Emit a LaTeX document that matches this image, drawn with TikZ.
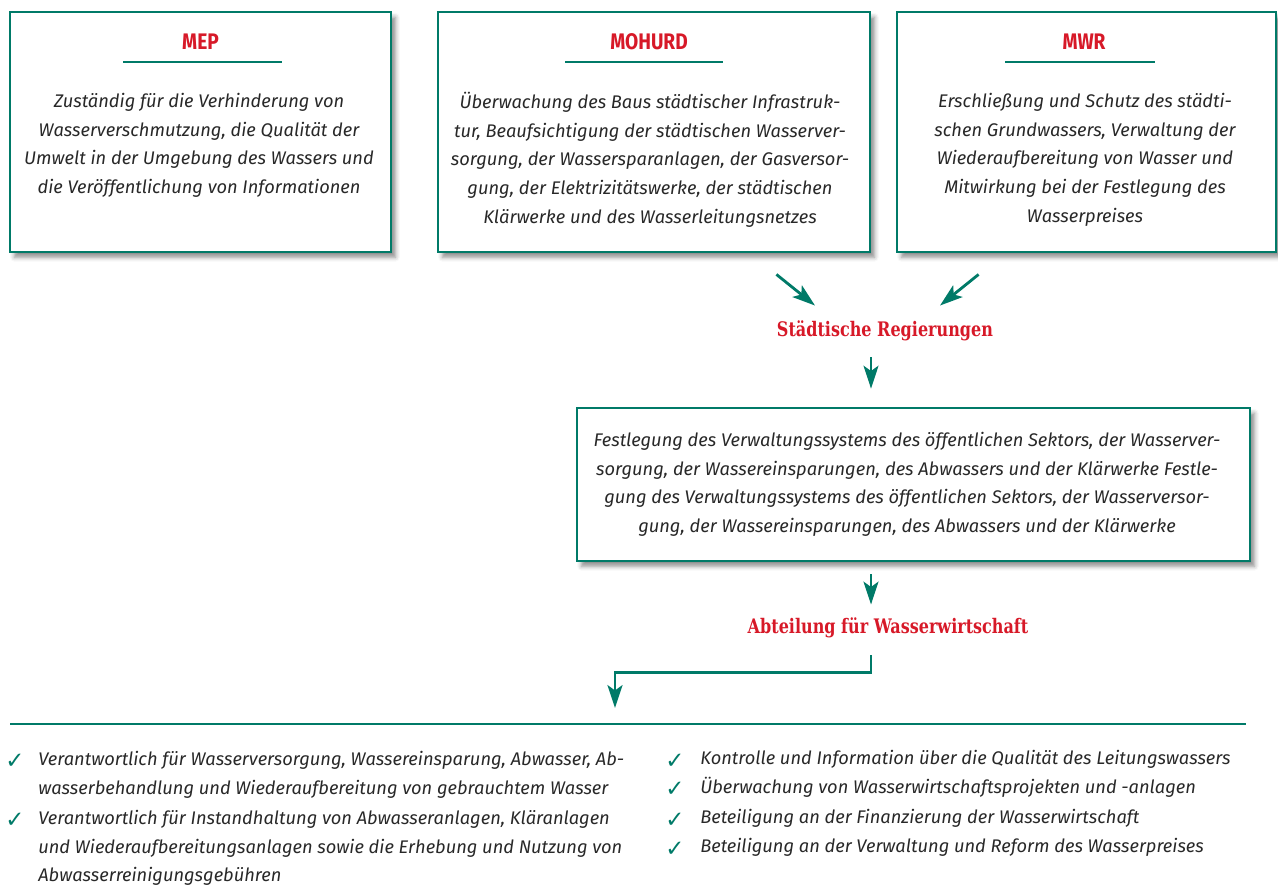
\documentclass[tikz,border=0pt]{standalone}
\usepackage{fontspec}
\setmainfont{Fira Sans}
\newfontfamily\slabfont[FakeStretch=0.8]{DejaVu Serif}
\newfontfamily\headfont[FakeStretch=0.85]{Fira Sans}
\newfontfamily\checkfont{DejaVu Sans}
\usetikzlibrary{arrows.meta,fit,shadows.blur}
\definecolor{wgreen}{RGB}{0,122,104}
\definecolor{wred}{RGB}{215,25,40}
\definecolor{wtext}{RGB}{40,40,40}

\tikzset{
  box/.style={draw=wgreen, line width=1.6pt, fill=white, inner sep=0pt,
    blur shadow={shadow xshift=2.5pt, shadow yshift=-3pt,
      shadow blur radius=2.5pt, shadow opacity=45}},
  head/.style={text=wred, inner sep=0pt,
    font=\headfont\bfseries\fontsize{12.8}{14}\selectfont},
  slab/.style={text=wred, inner sep=0pt,
    font=\slabfont\bfseries\fontsize{11.4}{13}\selectfont},
  txt/.style={align=center, text=wtext, inner sep=0pt,
    font=\itshape\fontsize{10.4}{16.3}\selectfont},
  item/.style={align=left, text=wtext, inner sep=0pt,
    font=\itshape\fontsize{10.4}{16.3}\selectfont},
  chk/.style={text=wgreen, inner sep=0pt,
    font=\checkfont\fontsize{13}{14}\selectfont},
  rule/.style={draw=wgreen, line width=1.6pt},
  arr/.style={draw=wgreen, line width=1.6pt,
    -{Stealth[length=13pt, width=8.5pt, inset=3pt]}}
}

\begin{document}
\begin{tikzpicture}[x=0.02cm, y=-0.02cm]
  \useasboundingbox (0,0) rectangle (1278,887);

  % the three ministries
  \node[box, fit={(10,12) (391,252)}] (mep) {};
  \node[box, fit={(438,12) (870,252)}] (mohurd) {};
  \node[box, fit={(897,12) (1276,252)}] (mwr) {};
  \foreach \name/\x/\l/\r in {MEP/200.5/123/282, MOHURD/649/565/723,
      MWR/1084/1005/1155}{
    \node[head] at (\x,42) {\name};
    \draw[rule] (\l,62) -- (\r,62);
  }
  \node[txt, anchor=north] (meptext) at (199,93) {Zuständig für die Verhinderung von\\
    Wasserverschmutzung, die Qualität der\\
    Umwelt in der Umgebung des Wassers und\\
    die Veröffentlichung von Informationen};
  \node[txt, anchor=north] (mohurdtext) at (650,92) {Überwachung des Baus städtischer Infrastruk-\\
    tur, Beaufsichtigung der städtischen Wasserver-\\
    sorgung, der Wassersparanlagen, der Gasversor-\\
    gung, der Elektrizitätswerke, der städtischen\\
    Klärwerke und des Wasserleitungsnetzes};
  \node[txt, anchor=north] (mwrtext) at (1085,93) {Erschließung und Schutz des städti-\\
    schen Grundwassers, Verwaltung der\\
    Wiederaufbereitung von Wasser und\\
    Mitwirkung bei der Festlegung des\\
    Wasserpreises};

  % city governments
  \node[slab] (regier) at (885,331) {Städtische Regierungen};
  \draw[arr] ([shift={(-95,21)}]mohurd.south east) -- ([shift={(-70,-15)}]regier.north);
  \draw[arr] ([shift={(83,21)}]mwr.south west) -- ([shift={(55,-15)}]regier.north);

  \node[box, fit={(577,408) (1250,561)}] (sektor) {};
  \node[txt, anchor=north] (sektortext) at (907,432) {Festlegung des Verwaltungssystems des öffentlichen Sektors, der Wasserver-\\
    sorgung, der Wassereinsparungen, des Abwassers und der Klärwerke Festle-\\
    gung des Verwaltungssystems des öffentlichen Sektors, der Wasserversor-\\
    gung, der Wassereinsparungen, des Abwassers und der Klärwerke};
  \draw[arr] ([shift={(-14,16)}]regier.south) -- ([shift={(-42.5,-18)}]sektor.north);

  % water department
  \node[slab] (abt) at (888,628) {Abteilung für Wasserwirtschaft};
  \draw[arr] ([shift={(-42.5,12)}]sektor.south) -- ([shift={(-17,-13)}]abt.north);
  \coordinate (drop) at (615,708);
  \draw[arr] ([shift={(-17,17)}]abt.south) -- ++(0,17) -| (drop);
  \draw[rule] (10,724) -- (1246,724);

  % tasks
  \node[chk] (c1) at (15,761) {✓};
  \node[item, anchor=north west] (t1) at (38,751) {Verantwortlich für Wasserversorgung, Wassereinsparung, Abwasser, Ab-\\
    wasserbehandlung und Wiederaufbereitung von gebrauchtem Wasser};
  \node[chk] (c2) at (15,820) {✓};
  \node[item, anchor=north west] (t2) at (38,810) {Verantwortlich für Instandhaltung von Abwasseranlagen, Kläranlagen\\
    und Wiederaufbereitungsanlagen sowie die Erhebung und Nutzung von\\
    Abwasserreinigungsgebühren};
  \foreach \y/\t in {759/Kontrolle und Information über die Qualität des Leitungswassers,
      787/Überwachung von Wasserwirtschaftsprojekten und -anlagen,
      818/Beteiligung an der Finanzierung der Wasserwirtschaft,
      847/Beteiligung an der Verwaltung und Reform des Wasserpreises}{
    \node[chk] at (675,\y+2) {✓};
    \node[item, anchor=west] at (700,\y) {\t};
  }
\end{tikzpicture}
\end{document}
